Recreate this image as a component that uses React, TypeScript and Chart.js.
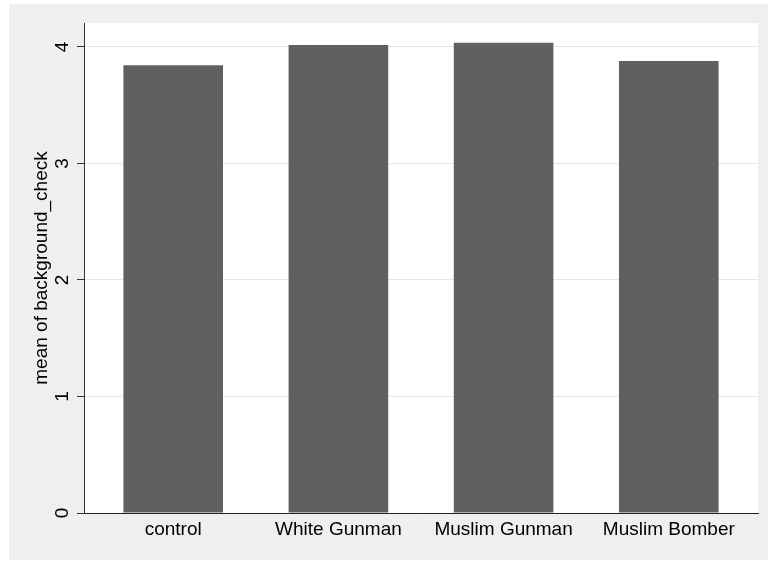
import React, { useEffect, useRef } from "react";
import { Chart, registerables } from "chart.js";

Chart.register(...registerables);

const categories: string[] = ["control", "White Gunman", "Muslim Gunman", "Muslim Bomber"];
const meanValues: number[] = [3.843, 4.017, 4.037, 3.88];
const yTicks: number[] = [0, 1, 2, 3, 4];
const yTitle = "mean of background_check";

const FONT = "'Liberation Sans', Arial, Helvetica, sans-serif";

const bgPlugin = {
  id: "stataBg",
  beforeDraw(chart: any) {
    const { ctx, chartArea } = chart;
    ctx.save();
    ctx.fillStyle = "#ffffff";
    ctx.fillRect(0, 0, chart.width, chart.height);
    ctx.fillStyle = "#efefef";
    ctx.fillRect(9, 4, chart.width - 9, chart.height - 5);
    ctx.fillStyle = "#ffffff";
    ctx.fillRect(chartArea.left, chartArea.top, chartArea.right - chartArea.left, chartArea.bottom - chartArea.top);
    ctx.restore();
  },
};

export default function App() {
  const ref = useRef<HTMLCanvasElement | null>(null);

  useEffect(() => {
    if (!ref.current) return;
    const chart = new Chart(ref.current, {
      type: "bar",
      data: {
        datasets: [
          {
            data: meanValues.map((v, i) => ({ x: i, y: v })),
            backgroundColor: "#606060",
            borderWidth: 0,
            barPercentage: 0.603,
            categoryPercentage: 1,
          },
        ],
      },
      options: {
        animation: false,
        responsive: false,
        devicePixelRatio: 1,
        layout: { padding: { left: 0, top: 23, right: 10, bottom: 0 } },
        plugins: {
          legend: { display: false },
          tooltip: { enabled: false },
        },
        scales: {
          x: {
            type: "linear",
            min: -0.54,
            max: 3.54,
            offset: false,
            afterBuildTicks: (axis: any) => {
              axis.ticks = categories.map((_, i) => ({ value: i }));
            },
            afterFit: (s: any) => {
              s.height = 48;
            },
            grid: { display: false, drawTicks: false, offset: false },
            border: { display: true, color: "#222222", width: 1 },
            ticks: {
              padding: 5,
              maxRotation: 0,
              minRotation: 0,
              autoSkip: false,
              color: "#000000",
              font: { family: FONT, size: 19 },
              callback: (v: any) => categories[Math.round(Number(v))] ?? "",
            },
          },
          y: {
            type: "linear",
            min: 0,
            max: 4.206,
            afterBuildTicks: (axis: any) => {
              axis.ticks = yTicks.map((v) => ({ value: v }));
            },
            afterFit: (s: any) => {
              s.width = 84;
            },
            grid: {
              color: "#e6e6e6",
              lineWidth: 1,
              tickColor: "#333333",
              tickLength: 7,
              drawTicks: true,
            },
            border: { display: true, color: "#333333", width: 1 },
            ticks: {
              minRotation: 90,
              maxRotation: 90,
              crossAlign: "center",
              padding: 9,
              color: "#000000",
              font: { family: FONT, size: 19 },
            },
            title: {
              display: true,
              text: yTitle,
              color: "#000000",
              font: { family: FONT, size: 19 },
              padding: { top: 30, bottom: 0 },
            },
          },
        },
      } as any,
      plugins: [bgPlugin],
    });
    return () => chart.destroy();
  }, []);

  return (
    <div style={{ position: "fixed", left: 0, top: 0, width: 768, height: 561 }}>
      <canvas ref={ref} width={768} height={561} style={{ display: "block", width: 768, height: 561 }} />
    </div>
  );
}
